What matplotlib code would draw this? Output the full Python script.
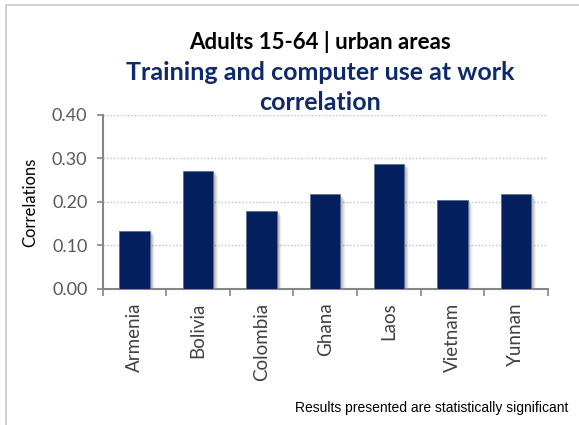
import matplotlib
matplotlib.use("Agg")
import matplotlib.pyplot as plt
from matplotlib.patches import Rectangle
import numpy as np

categories = ["Armenia", "Bolivia", "Colombia", "Ghana", "Laos", "Vietnam", "Yunnan"]
values = [0.133, 0.271, 0.179, 0.217, 0.287, 0.205, 0.218]
yticks = [0.0, 0.1, 0.2, 0.3, 0.4]
ytick_labels = ["0.00", "0.10", "0.20", "0.30", "0.40"]

W, H = 579, 425
fig = plt.figure(figsize=(W / 100, H / 100), dpi=100)
fig.patch.set_facecolor("white")

# figure border
fig.add_artist(Rectangle((6 / W, -0.01), 1.02, 1 - 5 / H + 0.01, transform=fig.transFigure,
                         fill=False, edgecolor="#c8c8c8", linewidth=1.2))

ax = fig.add_axes([102.7 / W, 136.3 / H, 445 / W, 173.7 / H])
x = np.arange(len(categories))
navy = "#031f5e"
bw = 0.48

# soft shadows
for k, a in [(1, 0.10), (2, 0.08), (3, 0.06), (4, 0.04), (5, 0.03)]:
    dx = k * 0.012
    dy = k * 0.0012
    ax.bar(x + dx + 0.02, np.array(values) - dy, width=bw, bottom=-dy, color="black",
           alpha=a, zorder=2, linewidth=0)

ax.bar(x, values, width=bw, color=navy, edgecolor="#5a6e96", linewidth=0.6, zorder=3)

ax.set_xlim(-0.5, len(categories) - 0.5)
ax.set_ylim(0, 0.4)
ax.set_yticks(yticks)
ax.set_yticklabels(ytick_labels, fontsize=13, color="#595959", family="Lato")
ax.yaxis.grid(True, linestyle=(0, (1, 1.5)), color="#a9c4ea", linewidth=1.0, zorder=0)
ax.set_axisbelow(True)

ax.set_xticks(x)
ax.set_xticklabels(categories, rotation=90, fontsize=13.5, color="#404040", family="Lato",
                   va="top")
ax.tick_params(axis="x", length=0, pad=10)
# boundary ticks
ax.set_xticks(np.arange(-0.5, len(categories) + 0.5, 1), minor=True)
ax.tick_params(axis="x", which="minor", length=5, width=1.2, color="#868686", direction="out")
ax.tick_params(axis="y", length=4, width=1.2, color="#868686", direction="out", pad=7)

for s in ["top", "right"]:
    ax.spines[s].set_visible(False)
for s in ["left", "bottom"]:
    ax.spines[s].set_color("#868686")
    ax.spines[s].set_linewidth(1.5)

ax.set_ylabel("Correlations", fontsize=12, color="black", family="Lato", labelpad=10)

fig.text(320 / W, 1 - 42 / H, "Adults 15-64 | urban areas", ha="center", va="center",
         fontsize=16, fontweight="bold", color="black", family="Lato")
fig.text(320 / W, 1 - 72 / H, "Training and computer use at work", ha="center", va="center",
         fontsize=18, fontweight="bold", color="#0f2a6b", family="Lato")
fig.text(320 / W, 1 - 102 / H, "correlation", ha="center", va="center",
         fontsize=18, fontweight="bold", color="#0f2a6b", family="Lato")
fig.text(568 / W, 1 - 408 / H, "Results presented are statistically significant",
         ha="right", va="center", fontsize=10, color="black", family="Liberation Sans")

fig.savefig("out.png", dpi=100)
